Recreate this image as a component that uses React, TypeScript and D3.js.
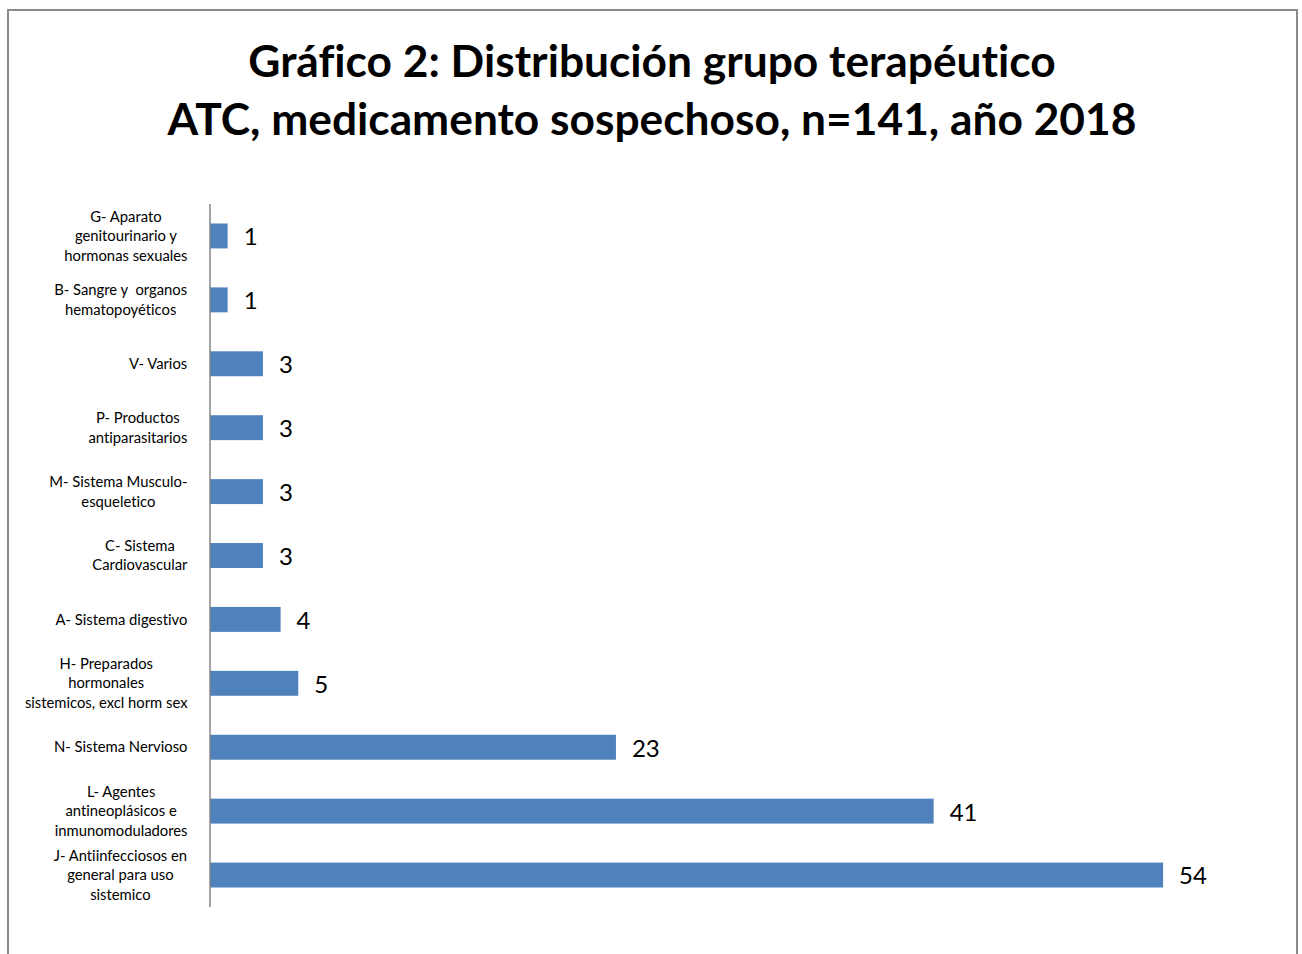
import React from "react";
import * as d3 from "d3";

const titleLines = [
  "Gráfico 2: Distribución grupo terapéutico",
  "ATC, medicamento sospechoso, n=141, año 2018",
];

const categories = [
  "G- Aparato\ngenitourinario y\nhormonas sexuales",
  "B- Sangre y  organos\nhematopoyéticos",
  "V- Varios",
  "P- Productos\nantiparasitarios",
  "M- Sistema Musculo-\nesqueletico",
  "C- Sistema\nCardiovascular",
  "A- Sistema digestivo",
  "H- Preparados\nhormonales\nsistemicos, excl horm sex",
  "N- Sistema Nervioso",
  "L- Agentes\nantineoplásicos e\ninmunomoduladores",
  "J- Antiinfecciosos en\ngeneral para uso\nsistemico",
];

const values = [1, 1, 3, 3, 3, 3, 4, 5, 23, 41, 54];

const W = 1302;
const H = 954;
const FONT = "Lato, 'Open Sans', sans-serif";
const LABEL_SIZE = 14.8;
const LINE_H = 19.5;

const noLig: React.CSSProperties = {
  fontVariantLigatures: "none",
  fontFeatureSettings: '"liga" 0, "clig" 0, "dlig" 0',
  textRendering: "optimizeSpeed",
};

let ctx: CanvasRenderingContext2D | null = null;
function measure(text: string, font: string): number {
  if (!ctx) {
    const c = document.createElement("canvas");
    ctx = c.getContext("2d");
  }
  if (!ctx) return text.length * 7;
  ctx.font = font;
  return ctx.measureText(text).width;
}

export default function App() {
  const y = d3
    .scaleBand<string>()
    .domain(categories)
    .range([204, 907])
    .paddingInner(0.61)
    .paddingOuter(0.305);
  const x = d3.scaleLinear().domain([0, 60]).range([210, 1269]);
  const labelRight = 187.5;

  return (
    <svg
      width={W}
      height={H}
      style={{
        position: "absolute",
        left: 0,
        top: 0,
        background: "#fff",
        ...noLig,
      }}
      fontFamily={FONT}
    >
      <rect x={0} y={0} width={W} height={H} fill="#fff" />
      <rect
        x={8}
        y={10}
        width={1289}
        height={H + 20}
        fill="#fff"
        stroke="#8a8a8a"
        strokeWidth={2}
      />
      {titleLines.map((t, i) => (
        <text
          key={i}
          x={652}
          y={77 + i * 58}
          textAnchor="middle"
          fontSize={44.3}
          fontWeight="bold"
          fill="#000"
          style={noLig}
        >
          {t}
        </text>
      ))}
      {categories.map((c, i) => {
        const y0 = y(c)!;
        const bw = y.bandwidth();
        const cy = y0 + bw / 2;
        const v = values[i];
        const lines = c.split("\n");
        const maxW = d3.max(lines, (l) =>
          measure(l, `${LABEL_SIZE}px ${FONT}`)
        )!;
        const cx = labelRight - maxW / 2;
        const startY = cy - ((lines.length - 1) * LINE_H) / 2;
        return (
          <g key={c}>
            <rect
              x={x(0)}
              y={y0}
              width={x(v) - x(0)}
              height={bw}
              fill="#4F81BD"
            />
            <text
              x={x(v) + 16}
              y={cy + 1}
              dy="0.35em"
              fontSize={24}
              fill="#000"
            >
              {v}
            </text>
            <text
              fontSize={LABEL_SIZE}
              fill="#000"
              textAnchor="middle"
              style={noLig}
            >
              {lines.map((l, j) => (
                <tspan
                  key={j}
                  x={cx}
                  y={startY + j * LINE_H}
                  dy="0.35em"
                  style={{ whiteSpace: "pre" }}
                >
                  {l}
                </tspan>
              ))}
            </text>
          </g>
        );
      })}
      <line
        x1={210}
        x2={210}
        y1={204}
        y2={907}
        stroke="#868686"
        strokeWidth={1.5}
      />
    </svg>
  );
}
